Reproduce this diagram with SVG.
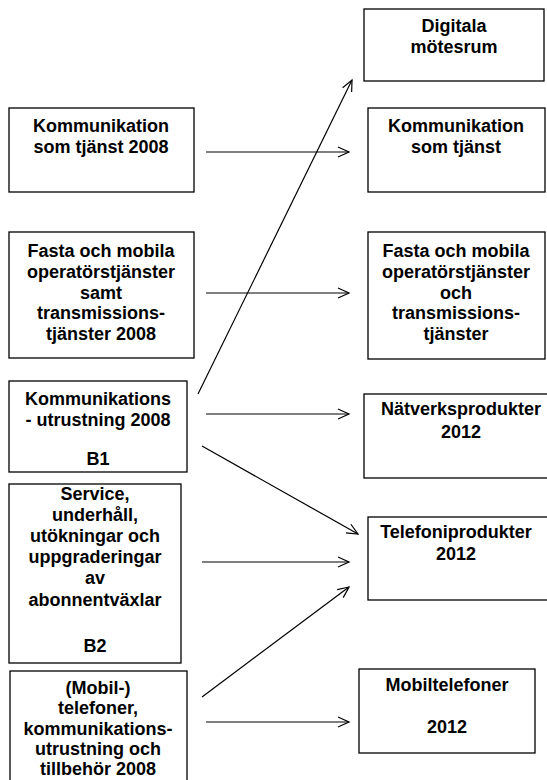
<svg xmlns="http://www.w3.org/2000/svg" width="547" height="780" viewBox="0 0 547 780">
<defs>
<style>
.box{fill:#fff;stroke:#000;stroke-width:1.3}
.t{font-family:"Liberation Sans",Arial,sans-serif;font-weight:bold;font-size:18px;fill:#000;text-anchor:middle}
.c{stroke:#000;stroke-width:1.2;fill:none;marker-end:url(#ah)}
</style>
<marker id="ah" markerUnits="userSpaceOnUse" markerWidth="14" markerHeight="14" refX="12" refY="6" orient="auto">
<path d="M1,1 L12,6 L1,11" fill="none" stroke="#000" stroke-width="1.2"/>
</marker>
</defs>
<rect width="547" height="780" fill="#fff"/>
<g id="connectors">
<line class="c" x1="206" y1="152" x2="349" y2="152"/>
<line class="c" x1="206" y1="293" x2="349" y2="293"/>
<line class="c" x1="206" y1="414" x2="349" y2="414"/>
<line class="c" x1="198" y1="394" x2="352" y2="80"/>
<line class="c" x1="202" y1="446" x2="358" y2="534"/>
<line class="c" x1="202" y1="562" x2="349" y2="562"/>
<line class="c" x1="202" y1="697" x2="349" y2="587"/>
<line class="c" x1="206" y1="722" x2="349" y2="722"/>
</g>
<g id="L1">
<rect class="box" x="9" y="108" width="185" height="84"/>
<text class="t" x="101" y="132">Kommunikation</text>
<text class="t" x="101" y="153">som tjänst 2008</text>
</g>
<g id="L2">
<rect class="box" x="9" y="232" width="185" height="126"/>
<text class="t" x="101" y="257">Fasta och mobila</text>
<text class="t" x="101" y="278">operatörstjänster</text>
<text class="t" x="101" y="299">samt</text>
<text class="t" x="101" y="319">transmissions-</text>
<text class="t" x="101" y="340">tjänster 2008</text>
</g>
<g id="L3">
<rect class="box" x="9" y="381" width="178" height="91"/>
<text class="t" x="98" y="405">Kommunikations</text>
<text class="t" x="98" y="426">- utrustning 2008</text>
<text class="t" x="98" y="465">B1</text>
</g>
<g id="L4">
<rect class="box" x="9" y="484" width="172" height="179"/>
<text class="t" x="95" y="500">Service,</text>
<text class="t" x="95" y="521">underhåll,</text>
<text class="t" x="95" y="542">utökningar och</text>
<text class="t" x="95" y="563">uppgraderingar</text>
<text class="t" x="95" y="584">av</text>
<text class="t" x="95" y="606">abonnentväxlar</text>
<text class="t" x="95" y="652">B2</text>
</g>
<g id="L5">
<rect class="box" x="10" y="671" width="177" height="130"/>
<text class="t" x="98" y="694">(Mobil-)</text>
<text class="t" x="98" y="714">telefoner,</text>
<text class="t" x="98" y="735">kommunikations-</text>
<text class="t" x="98" y="755">utrustning och</text>
<text class="t" x="98" y="775">tillbehör 2008</text>
</g>
<g id="R1">
<rect class="box" x="364" y="9" width="180" height="72"/>
<text class="t" x="454" y="32">Digitala</text>
<text class="t" x="454" y="53">mötesrum</text>
</g>
<g id="R2">
<rect class="box" x="368" y="108" width="177" height="84"/>
<text class="t" x="456" y="132">Kommunikation</text>
<text class="t" x="456" y="153">som tjänst</text>
</g>
<g id="R3">
<rect class="box" x="368" y="232" width="177" height="127"/>
<text class="t" x="456" y="257">Fasta och mobila</text>
<text class="t" x="456" y="278">operatörstjänster</text>
<text class="t" x="456" y="299">och</text>
<text class="t" x="456" y="319">transmissions-</text>
<text class="t" x="456" y="340">tjänster</text>
</g>
<g id="R4">
<rect class="box" x="364" y="394" width="200" height="84"/>
<text class="t" x="461" y="415">Nätverksprodukter</text>
<text class="t" x="461" y="438">2012</text>
</g>
<g id="R5">
<rect class="box" x="368" y="517" width="200" height="83"/>
<text class="t" x="456" y="538">Telefoniprodukter</text>
<text class="t" x="456" y="560">2012</text>
</g>
<g id="R6">
<rect class="box" x="359" y="669" width="176" height="84"/>
<text class="t" x="447" y="691">Mobiltelefoner</text>
<text class="t" x="447" y="733">2012</text>
</g>
</svg>
